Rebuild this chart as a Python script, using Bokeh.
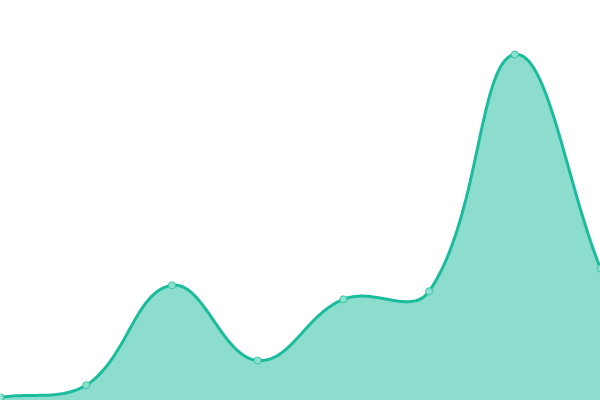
import numpy as np
from bokeh.plotting import figure
from bokeh.embed import file_html
from bokeh.resources import INLINE
from bokeh.models import Range1d

# data
labels = ["1", "2", "3", "4", "5", "6", "7", "8"]
values = [0.8, 3.8, 28.8, 10.0, 25.3, 27.3, 86.5, 33.0]

W, H = 600, 400
Y_MAX = 100.0
TENSION = 0.4

n = len(values)
xs = np.arange(n, dtype=float)
ys = np.array(values, dtype=float)

# Chart.js-like spline control points (computed in pixel space)
px = xs * W / (n - 1)
py = ys * H / Y_MAX
cp_prev = []
cp_next = []
for i in range(n):
    p0 = (px[max(i - 1, 0)], py[max(i - 1, 0)])
    p1 = (px[i], py[i])
    p2 = (px[min(i + 1, n - 1)], py[min(i + 1, n - 1)])
    d01 = np.hypot(p1[0] - p0[0], p1[1] - p0[1])
    d12 = np.hypot(p2[0] - p1[0], p2[1] - p1[1])
    tot = d01 + d12
    s01 = d01 / tot if tot else 0
    s12 = d12 / tot if tot else 0
    fa, fb = TENSION * s01, TENSION * s12
    cp_prev.append((p1[0] - fa * (p2[0] - p0[0]), p1[1] - fa * (p2[1] - p0[1])))
    cp_next.append((p1[0] + fb * (p2[0] - p0[0]), p1[1] + fb * (p2[1] - p0[1])))

def clamp(v, lo, hi):
    return min(max(v, lo), hi)

cp_prev = [(clamp(a, 0, W), clamp(b, 0, H)) for a, b in cp_prev]
cp_next = [(clamp(a, 0, W), clamp(b, 0, H)) for a, b in cp_next]

cx, cy = [], []
t = np.linspace(0, 1, 40)
for i in range(n - 1):
    P0 = np.array([px[i], py[i]])
    P1 = np.array(cp_next[i])
    P2 = np.array(cp_prev[i + 1])
    P3 = np.array([px[i + 1], py[i + 1]])
    tt = t[:, None] if i == 0 else t[1:, None]
    pts = ((1 - tt) ** 3) * P0 + 3 * ((1 - tt) ** 2) * tt * P1 + 3 * (1 - tt) * tt ** 2 * P2 + tt ** 3 * P3
    cx.extend(pts[:, 0] * (n - 1) / W)
    cy.extend(pts[:, 1] * Y_MAX / H)

p = figure(width=W, height=H, output_backend="svg", toolbar_location=None,
           x_range=Range1d(0, n - 1), y_range=Range1d(0, Y_MAX), min_border=0)
p.axis.visible = False
p.grid.visible = False
p.outline_line_color = None
p.background_fill_color = "white"
p.border_fill_color = "white"

p.varea(x=cx, y1=[0] * len(cx), y2=cy, fill_color="#1abc9c", fill_alpha=0.5)
p.line(x=cx, y=cy, line_color="#1abc9c", line_width=3)
p.scatter(x=xs, y=ys, size=7, fill_color="#8ce0cf", line_color="#3cc6a8", line_width=1)

open("out.html", "w").write(file_html(p, INLINE))
